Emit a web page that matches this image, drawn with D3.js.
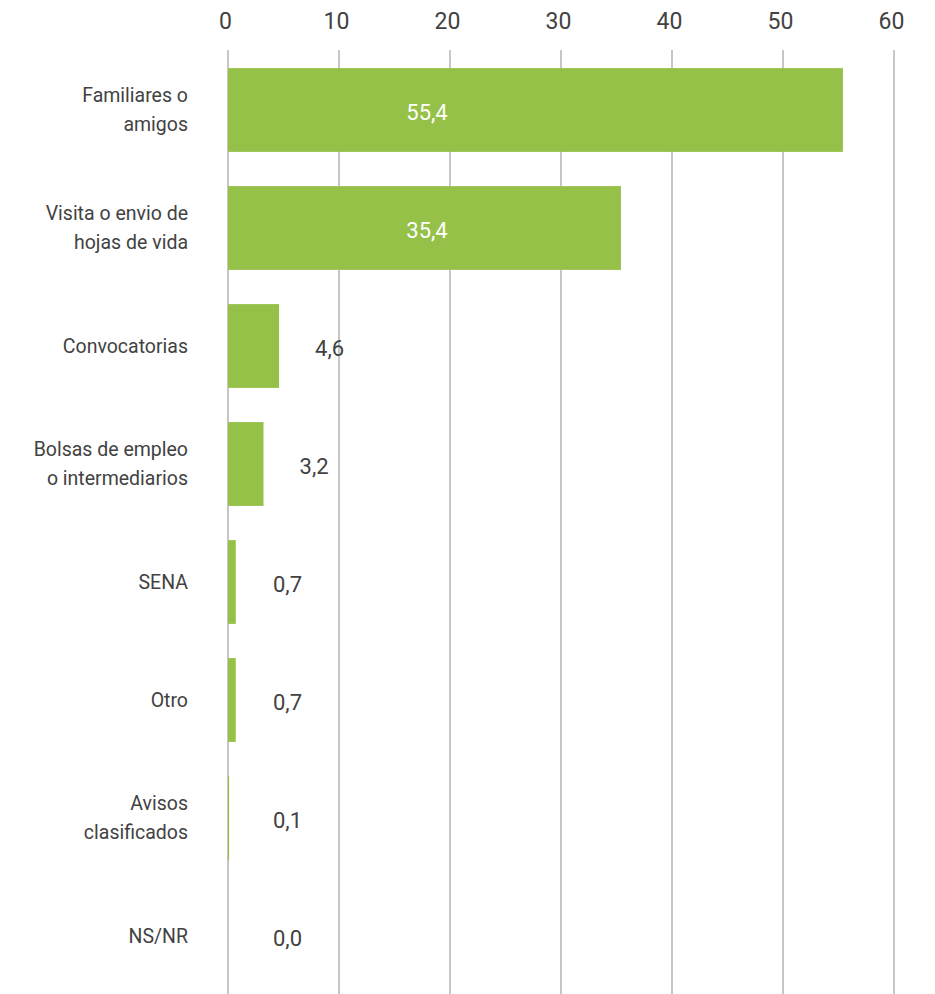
<!DOCTYPE html>
<html>
<head>
<meta charset="utf-8">
<script src="https://cdn.jsdelivr.net/npm/d3@7"></script>
<style>
  html, body { margin: 0; padding: 0; background: #ffffff; }
  svg { display: block; }
  text { font-family: Roboto, "Liberation Sans", sans-serif; fill: #424242; }
</style>
</head>
<body>
<div id="chart"></div>
<script>
// Categories (each entry is a list of label lines) and their percentages
const categories = [
  ["Familiares o", "amigos"],
  ["Visita o envio de", "hojas de vida"],
  ["Convocatorias"],
  ["Bolsas de empleo", "o intermediarios"],
  ["SENA"],
  ["Otro"],
  ["Avisos", "clasificados"],
  ["NS/NR"]
];
const values = [55.4, 35.4, 4.6, 3.2, 0.7, 0.7, 0.1, 0.0];
const xTicks = [0, 10, 20, 30, 40, 50, 60];

const width = 935, height = 994;
const barColor = "#95c149";
const gridColor = "#b3b3b3";
const textColor = "#424242";

const svg = d3.select("#chart").append("svg")
  .attr("width", width)
  .attr("height", height);

const keys = categories.map((c, i) => i);

const x = d3.scaleLinear().domain([0, 60]).range([228, 894]);
const y = d3.scaleBand()
  .domain(keys)
  .range([51, 995])
  .paddingInner(0.29)
  .paddingOuter(0.145);

// vertical gridlines
svg.append("g")
  .selectAll("line")
  .data(xTicks)
  .join("line")
  .attr("x1", d => x(d)).attr("x2", d => x(d))
  .attr("y1", 50).attr("y2", height)
  .attr("stroke", gridColor)
  .attr("stroke-width", 1.5);

// tick labels along the top
const axis = svg.append("g")
  .attr("transform", "translate(-3,29)")
  .call(d3.axisTop(x).tickValues(xTicks).tickSize(0).tickPadding(0).tickFormat(d3.format("d")));
axis.select(".domain").remove();
axis.selectAll("text")
  .attr("font-size", 23)
  .attr("fill", textColor)
  .style("font-family", "Roboto, sans-serif");

// bars
svg.append("g")
  .selectAll("rect")
  .data(values)
  .join("rect")
  .attr("x", x(0))
  .attr("y", (d, i) => y(i))
  .attr("width", d => x(d) - x(0))
  .attr("height", y.bandwidth())
  .attr("fill", barColor);

// category labels (right aligned, multi-line)
const lineH = 29;
const catG = svg.append("g");
categories.forEach((lines, i) => {
  const cy = y(i) + y.bandwidth() / 2;
  const t = catG.append("text")
    .attr("text-anchor", "end")
    .attr("font-size", 19.5)
    .attr("x", 188);
  lines.forEach((ln, j) => {
    t.append("tspan")
      .attr("x", 188)
      .attr("y", cy + (j - (lines.length - 1) / 2) * lineH)
      .attr("dy", "0.35em")
      .text(ln);
  });
});

// value labels: inside large bars in white, otherwise just past the bar end
const fmt = v => d3.format(".1f")(v).replace(".", ",");
svg.append("g")
  .selectAll("text")
  .data(values)
  .join("text")
  .attr("font-size", 22)
  .attr("dy", "0.35em")
  .attr("y", (d, i) => y(i) + y.bandwidth() / 2 + 2)
  .attr("text-anchor", d => d > 20 ? "middle" : "start")
  .attr("x", d => d > 20 ? x(0) + 199 : Math.max(x(d) + 36, x(0) + 45))
  .style("fill", d => d > 20 ? "#ffffff" : textColor)
  .text(fmt);
</script>
</body>
</html>
